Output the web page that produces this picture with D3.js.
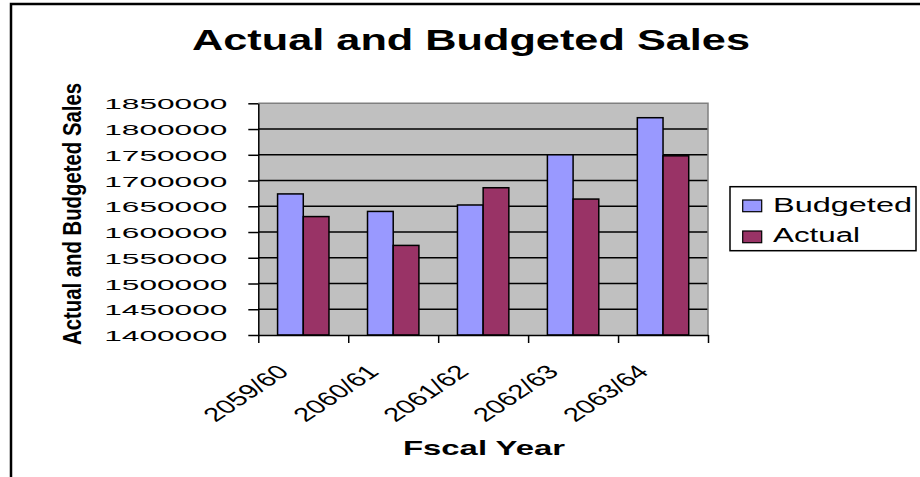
<!DOCTYPE html>
<html>
<head>
<meta charset="utf-8">
<script src="https://cdn.jsdelivr.net/npm/d3@7"></script>
<style>
  html, body { margin: 0; padding: 0; background: #ffffff; }
  svg { display: block; }
  text { font-family: "Liberation Sans", Arial, sans-serif; fill: #000; }
</style>
</head>
<body>
<svg id="chart" width="920" height="477"></svg>
<script>
// Fiscal years and sales figures
const categories = ["2059/60", "2060/61", "2061/62", "2062/63", "2063/64"];
const seriesNames = ["Budgeted", "Actual"];
const budgeted = [1674000, 1640000, 1652500, 1750000, 1822000];
const actual = [1630000, 1574000, 1686000, 1664000, 1748000];
const yTicks = [1400000, 1450000, 1500000, 1550000, 1600000, 1650000, 1700000, 1750000, 1800000, 1850000];
const seriesColors = ["#9999FF", "#993366"];

const svg = d3.select("#chart");

// chart frame (only top and left edges fall inside the view)
svg.append("rect")
  .attr("x", 11).attr("y", 4)
  .attr("width", 1000).attr("height", 600)
  .attr("fill", "none").attr("stroke", "#000").attr("stroke-width", 2.5);

const plot = { left: 258.3, right: 708, top: 103.3, bottom: 335 };

const y = d3.scaleLinear()
  .domain([yTicks[0], yTicks[yTicks.length - 1]])
  .range([plot.bottom, plot.top]);

const x0 = d3.scaleBand().domain(categories).range([plot.left, plot.right]);
const bw = x0.bandwidth();
const halfGap = bw * 0.75 / 3.5;   // 150% gap width split on both sides
const x1 = d3.scaleBand().domain(seriesNames).range([halfGap, bw - halfGap]);

// plot area background
svg.append("rect")
  .attr("x", plot.left).attr("y", plot.top)
  .attr("width", plot.right - plot.left).attr("height", plot.bottom - plot.top)
  .attr("fill", "#C0C0C0");

// horizontal gridlines
svg.append("g").selectAll("line")
  .data(yTicks.slice(1, -1))
  .join("line")
  .attr("x1", plot.left).attr("x2", plot.right)
  .attr("y1", d => y(d)).attr("y2", d => y(d))
  .attr("stroke", "#000").attr("stroke-width", 1.5);

// plot area border (top and right)
svg.append("path")
  .attr("d", `M${plot.left},${plot.top}H${plot.right}V${plot.bottom}`)
  .attr("fill", "none").attr("stroke", "#808080").attr("stroke-width", 1.5);

// bars
const rows = categories.map((c, i) => ({ cat: c, vals: [budgeted[i], actual[i]] }));
svg.append("g").selectAll("g")
  .data(rows)
  .join("g")
  .attr("transform", d => `translate(${x0(d.cat)},0)`)
  .selectAll("rect")
  .data(d => d.vals.map((v, j) => ({ s: seriesNames[j], v, j })))
  .join("rect")
  .attr("x", d => x1(d.s))
  .attr("y", d => y(d.v))
  .attr("width", x1.bandwidth())
  .attr("height", d => y(yTicks[0]) - y(d.v))
  .attr("fill", d => seriesColors[d.j])
  .attr("stroke", "#000").attr("stroke-width", 1.5);

// y axis
const yAxis = svg.append("g")
  .attr("transform", `translate(${plot.left},0)`)
  .call(d3.axisLeft(y).tickValues(yTicks).tickSize(10).tickSizeOuter(0)
    .tickPadding(21).tickFormat(d3.format("d")));
yAxis.select(".domain").attr("stroke", "#000").attr("stroke-width", 1.5);
yAxis.selectAll(".tick line").attr("stroke", "#000").attr("stroke-width", 1.5);
yAxis.selectAll(".tick text")
  .attr("font-size", 15.5)
  .attr("dy", "0.36em")
  .attr("textLength", 123)
  .attr("lengthAdjust", "spacingAndGlyphs")
  .style("font-family", '"Liberation Sans", Arial, sans-serif')
  .attr("fill", "#000");

// x axis (ticks at category boundaries)
const xi = d3.scaleLinear().domain([0, categories.length]).range([plot.left, plot.right]);
const xAxis = svg.append("g")
  .attr("transform", `translate(0,${plot.bottom})`)
  .call(d3.axisBottom(xi).tickValues(d3.range(categories.length + 1))
    .tickSize(8).tickSizeOuter(0).tickFormat(""));
xAxis.select(".domain").attr("stroke", "#000").attr("stroke-width", 1.5);
xAxis.selectAll(".tick line").attr("stroke", "#000").attr("stroke-width", 1.5);

// slanted category labels
svg.append("g").selectAll("text")
  .data(categories)
  .join("text")
  .attr("transform", d => `translate(${x0(d) + bw / 2 - 13},373) scale(1.5,1) rotate(-45)`)
  .attr("text-anchor", "end")
  .attr("font-size", 19.5)
  .text(d => d);

// title
svg.append("text")
  .attr("x", 192).attr("y", 49.5)
  .attr("font-size", 29).attr("font-weight", "bold")
  .attr("textLength", 558).attr("lengthAdjust", "spacingAndGlyphs")
  .text("Actual and Budgeted Sales");

// axis titles
svg.append("text")
  .attr("x", 484).attr("y", 455)
  .attr("text-anchor", "middle")
  .attr("font-size", 21).attr("font-weight", "bold")
  .attr("textLength", 162).attr("lengthAdjust", "spacingAndGlyphs")
  .text("Fscal Year");

svg.append("text")
  .attr("transform", "translate(80.5,214) rotate(-90)")
  .attr("text-anchor", "middle")
  .attr("font-size", 26).attr("font-weight", "bold")
  .attr("textLength", 262).attr("lengthAdjust", "spacingAndGlyphs")
  .text("Actual and Budgeted Sales");

// legend
const legend = svg.append("g");
legend.append("rect")
  .attr("x", 730).attr("y", 186.7).attr("width", 186).attr("height", 64)
  .attr("fill", "#fff").attr("stroke", "#000").attr("stroke-width", 1.5);
const legendRows = [
  { name: seriesNames[0], color: seriesColors[0], top: 200, base: 212.3, len: 139 },
  { name: seriesNames[1], color: seriesColors[1], top: 231, base: 242.3, len: 87 }
];
const items = legend.selectAll("g.item").data(legendRows).join("g").attr("class", "item");
items.append("rect")
  .attr("x", 742.7).attr("y", d => d.top).attr("width", 19).attr("height", 11.7)
  .attr("fill", d => d.color).attr("stroke", "#000").attr("stroke-width", 1.2);
items.append("text")
  .attr("x", 773).attr("y", d => d.base)
  .attr("font-size", 19.5)
  .attr("textLength", d => d.len).attr("lengthAdjust", "spacingAndGlyphs")
  .text(d => d.name);
</script>
</body>
</html>
